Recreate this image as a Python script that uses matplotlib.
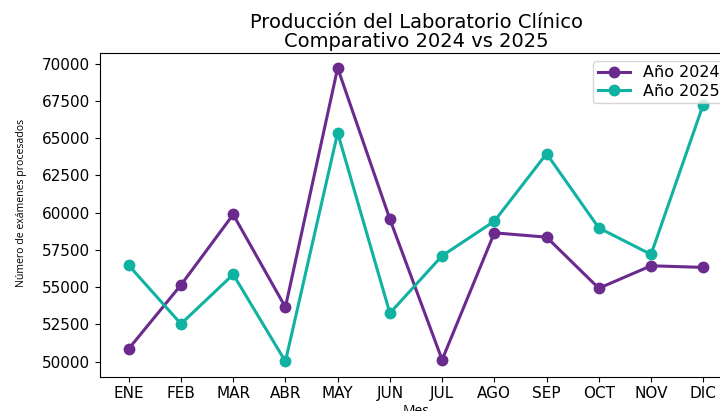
import matplotlib
matplotlib.use("Agg")
import matplotlib.pyplot as plt

meses = ["ENE", "FEB", "MAR", "ABR", "MAY", "JUN", "JUL", "AGO", "SEP", "OCT", "NOV", "DIC"]
anio_2024 = [50870, 55150, 59880, 53660, 69710, 59570, 50130, 58650, 58360, 54930, 56440, 56330]
anio_2025 = [56470, 52540, 55860, 50020, 65360, 53260, 57110, 59430, 63960, 58980, 57200, 67260]
yticks = [50000, 52500, 55000, 57500, 60000, 62500, 65000, 67500, 70000]

fig = plt.figure(figsize=(7.2, 4.11), dpi=100)
ax = fig.add_axes([100 / 720, 1 - 376.7 / 411, 632 / 720, (376.7 - 52.7) / 411])

x = list(range(len(meses)))
ax.plot(x, anio_2024, marker="o", color="#6B2B8E", linewidth=2.2, markersize=7.5, label="Año 2024")
ax.plot(x, anio_2025, marker="o", color="#10B2A2", linewidth=2.2, markersize=7.5, label="Año 2025")

ax.set_xticks(x)
ax.set_xticklabels(meses, fontsize=11)
ax.set_yticks(yticks)
ax.set_yticklabels([str(v) for v in yticks], fontsize=11)
ax.set_ylim(48997, 70736)

ax.set_title("Producción del Laboratorio Clínico\nComparativo 2024 vs 2025", fontsize=14, pad=4,
             linespacing=1.0)
ax.set_ylabel("Número de exámenes procesados", family=["Open Sans", "DejaVu Sans"], fontsize=7.6)
ax.yaxis.set_label_coords(-0.1155, 0.536)
ax.set_xlabel("Mes", family=["Open Sans", "DejaVu Sans"], fontsize=10, labelpad=2)
ax.legend(loc="upper right", fontsize=11.5, borderaxespad=0.5, handlelength=2,
          borderpad=0.3, labelspacing=0.2)

fig.savefig("out.png", dpi=100)
